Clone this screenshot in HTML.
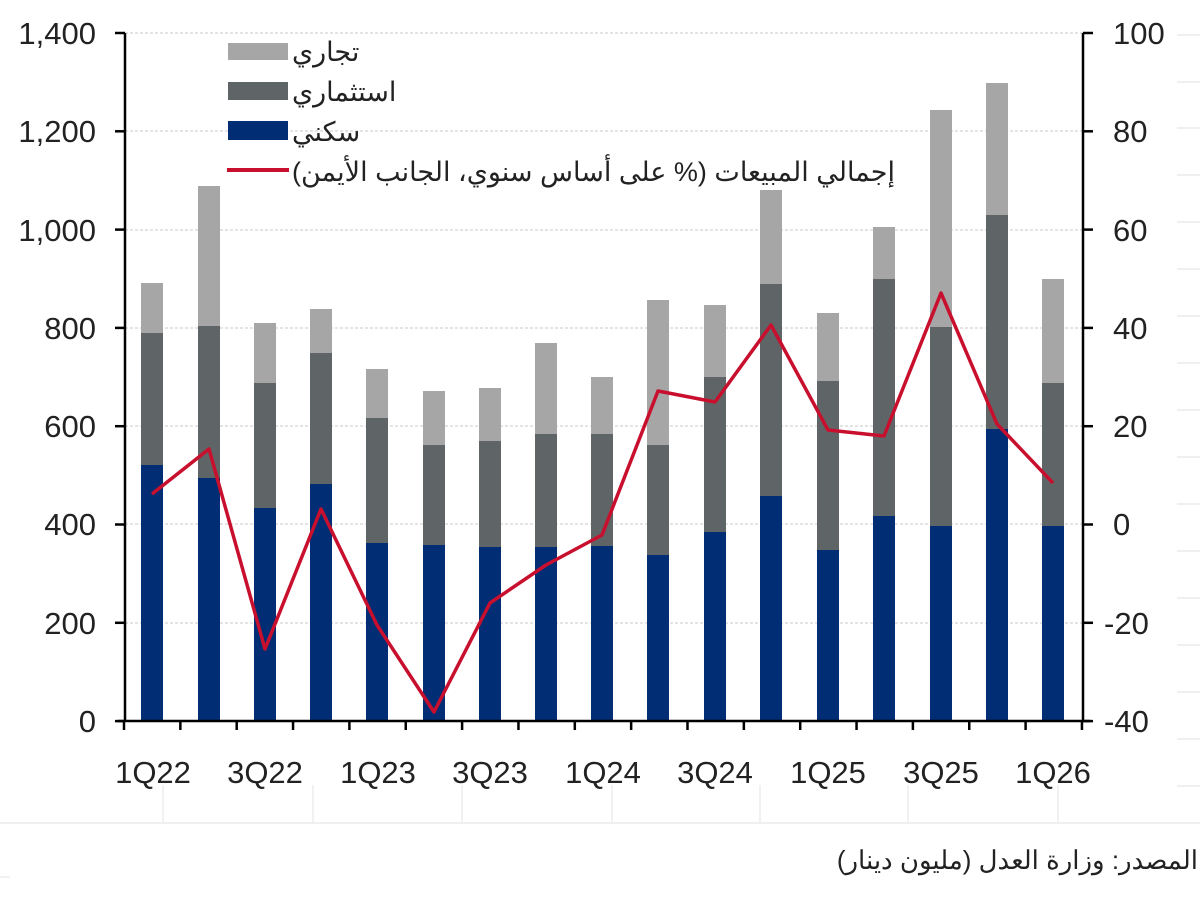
<!DOCTYPE html>
<html><head><meta charset="utf-8"><style>
html,body{margin:0;padding:0;background:#fff;width:1200px;height:901px;overflow:hidden}
svg text{font-family:"Liberation Sans","Noto Sans CJK SC",sans-serif;fill:#222}
</style></head><body>
<svg width="1200" height="901" viewBox="0 0 1200 901" xmlns="http://www.w3.org/2000/svg" style="position:absolute;left:0;top:0">
<g stroke="#ececec" stroke-width="1.5">
<line x1="0" y1="823" x2="1200" y2="823"/>
<line x1="163" y1="785" x2="163" y2="823"/><line x1="313" y1="785" x2="313" y2="823"/>
<line x1="462" y1="785" x2="462" y2="823"/><line x1="612" y1="785" x2="612" y2="823"/>
<line x1="760" y1="785" x2="760" y2="823"/><line x1="908" y1="785" x2="908" y2="823"/>
<line x1="1058" y1="785" x2="1058" y2="823"/>
<line x1="1177" y1="35" x2="1200" y2="35"/><line x1="1177" y1="82" x2="1200" y2="82"/>
<line x1="1177" y1="128" x2="1200" y2="128"/><line x1="1177" y1="175" x2="1200" y2="175"/>
<line x1="1177" y1="222" x2="1200" y2="222"/><line x1="1177" y1="269" x2="1200" y2="269"/>
<line x1="1177" y1="316" x2="1200" y2="316"/><line x1="1177" y1="363" x2="1200" y2="363"/>
<line x1="1177" y1="410" x2="1200" y2="410"/><line x1="1177" y1="457" x2="1200" y2="457"/>
<line x1="1177" y1="504" x2="1200" y2="504"/><line x1="1177" y1="551" x2="1200" y2="551"/>
<line x1="1177" y1="598" x2="1200" y2="598"/><line x1="1177" y1="645" x2="1200" y2="645"/>
<line x1="1177" y1="692" x2="1200" y2="692"/><line x1="1177" y1="739" x2="1200" y2="739"/>
<line x1="1177" y1="786" x2="1200" y2="786"/>
<line x1="0" y1="877" x2="10" y2="877"/>
</g>
<g stroke="#c8c8c8" stroke-width="1" stroke-dasharray="3,2">
<line x1="125" y1="33" x2="1083" y2="33"/><line x1="125" y1="131" x2="1083" y2="131"/>
<line x1="125" y1="230" x2="1083" y2="230"/><line x1="125" y1="328" x2="1083" y2="328"/>
<line x1="125" y1="426" x2="1083" y2="426"/><line x1="125" y1="524" x2="1083" y2="524"/>
<line x1="125" y1="623" x2="1083" y2="623"/>
</g>
<g id="bars"></g>
<g stroke="#000" stroke-width="2.5" fill="none">
<line x1="125" y1="33" x2="125" y2="722"/>
<line x1="1083" y1="33" x2="1083" y2="722"/>
<line x1="118" y1="721" x2="1090" y2="721"/>
</g>
<g stroke="#000" stroke-width="2.5" id="ticks"></g>
<polyline fill="none" stroke="#c8102e" stroke-width="3.5" stroke-linejoin="round" points="152,494 209,449 265,649 321,509 377,625 434,712 490,603 546,565 602,535 658,391 715,402 771,325 828,430 884,436 941,293 997,424 1053,483"/>
<g font-size="31" text-anchor="end">
<text x="96" y="44">1,400</text><text x="96" y="142">1,200</text><text x="96" y="241">1,000</text>
<text x="96" y="339">800</text><text x="96" y="437">600</text><text x="96" y="535">400</text>
<text x="96" y="634">200</text><text x="96" y="732">0</text>
</g>
<g font-size="31" text-anchor="start">
<text x="1113" y="44">100</text><text x="1113" y="142">80</text><text x="1113" y="241">60</text>
<text x="1113" y="339">40</text><text x="1113" y="437">20</text><text x="1113" y="535">0</text>
<text x="1104" y="634">-20</text><text x="1104" y="732">-40</text>
</g>
<g font-size="31" text-anchor="middle">
<text x="153" y="783">1Q22</text><text x="265" y="783">3Q22</text><text x="378" y="783">1Q23</text>
<text x="490" y="783">3Q23</text><text x="603" y="783">1Q24</text><text x="715" y="783">3Q24</text>
<text x="828" y="783">1Q25</text><text x="941" y="783">3Q25</text><text x="1053" y="783">1Q26</text>
</g>
<rect x="228" y="43" width="60" height="17" fill="#a6a6a6"/>
<rect x="228" y="82" width="60" height="18" fill="#5f6566"/>
<rect x="228" y="121" width="60" height="19" fill="#002d74"/>
<line x1="227" y1="170" x2="289" y2="170" stroke="#c8102e" stroke-width="4"/>
</svg>
<script>
(function(){
var ns="http://www.w3.org/2000/svg";
var xs=[152,209,265,321,377,434,490,546,602,658,715,771,828,884,941,997,1053];
var d=[[465,333,283],[478,326,186],[508,383,323],[484,353,309],[543,418,369],[545,445,391],[547,441,388],[547,434,343],[546,434,377],[555,445,300],[532,377,305],[496,284,190],[550,381,313],[516,279,227],[526,327,110],[429,215,83],[526,383,279]];
var g=document.getElementById("bars");
function r(x,y1,y2,c){var e=document.createElementNS(ns,"rect");e.setAttribute("x",x-11);e.setAttribute("y",y1);e.setAttribute("width",22);e.setAttribute("height",y2-y1);e.setAttribute("fill",c);g.appendChild(e);}
for(var i=0;i<xs.length;i++){r(xs[i],d[i][0],721,"#002d74");r(xs[i],d[i][1],d[i][0],"#5f6566");r(xs[i],d[i][2],d[i][1],"#a6a6a6");}
var t=document.getElementById("ticks");
function l(a,b,c,e){var k=document.createElementNS(ns,"line");k.setAttribute("x1",a);k.setAttribute("y1",b);k.setAttribute("x2",c);k.setAttribute("y2",e);t.appendChild(k);}
for(var j=0;j<=17;j++){var x=124+j*56.35;l(x,721,x,730);}
for(var j=0;j<8;j++){var y=33+j*98.3;l(115,y,125,y);l(1083,y,1093,y);}
})();
</script>
<div style="position:absolute;left:292px;top:32px;font:27px 'Liberation Sans','Noto Sans CJK SC',sans-serif;color:#222;line-height:40px;white-space:nowrap">
<div dir="rtl" style="text-align:left">تجاري</div>
<div dir="rtl" style="text-align:left">استثماري</div>
<div dir="rtl" style="text-align:left">سكني</div>
<div dir="rtl" style="text-align:left">إجمالي المبيعات (% على أساس سنوي، الجانب الأيمن)</div>
</div>
<div dir="rtl" style="position:absolute;right:2px;top:845px;font:26px 'Liberation Sans','Noto Sans CJK SC',sans-serif;color:#222;white-space:nowrap">المصدر: وزارة العدل (مليون دينار)</div>
</body></html>
